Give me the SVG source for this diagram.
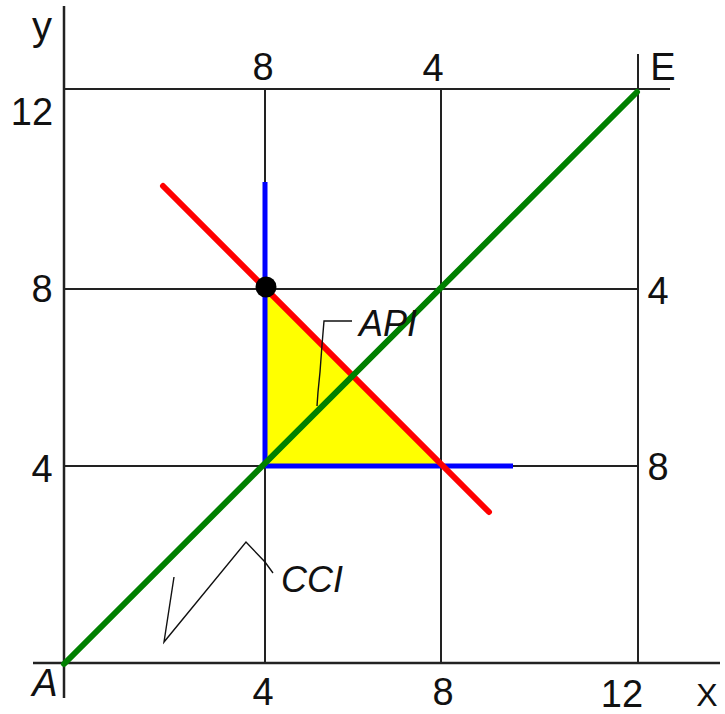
<svg xmlns="http://www.w3.org/2000/svg" width="725" height="714" viewBox="0 0 725 714">
<style>
.ax{stroke:#222;stroke-width:2.5;fill:none}
.gr{stroke:#222;stroke-width:2;fill:none}
.lbl{font-family:"Comic Sans MS","Liberation Sans",sans-serif;font-size:38px;fill:#111;text-anchor:middle}
.it{font-style:italic}
.lead{stroke:#111;stroke-width:1.4;fill:none}
</style>
<rect width="725" height="714" fill="#fff"/>
<g id="grid">
<line class="ax" x1="64" y1="6" x2="64" y2="698"/>
<line class="ax" x1="33" y1="663" x2="720" y2="663"/>
<line class="gr" x1="64" y1="89" x2="670" y2="89"/>
<line class="gr" x1="638" y1="54" x2="638" y2="663"/>
<line class="gr" x1="64" y1="289" x2="638" y2="289"/>
<line class="gr" x1="64" y1="466" x2="638" y2="466"/>
<line class="gr" x1="265" y1="89" x2="265" y2="663"/>
<line class="gr" x1="441" y1="89" x2="441" y2="663"/>
</g>
<g id="api-area">
<polygon points="265,289 265,466 441,466" fill="#ffff00"/>
</g>
<g id="connectors">
<line x1="265" y1="182" x2="265" y2="466" stroke="#0000ff" stroke-width="5"/>
<line x1="265" y1="466" x2="513" y2="466" stroke="#0000ff" stroke-width="5"/>
<line x1="163" y1="186" x2="489" y2="512" stroke="#ff0000" stroke-width="6" stroke-linecap="round"/>
<line x1="64" y1="664" x2="637" y2="92" stroke="#008000" stroke-width="6" stroke-linecap="round"/>
<polyline class="lead" points="352,321 324,321 322,345 320,372 318,392 317,406"/>
<polyline class="lead" points="273,573 265,562 246,542 164,642 174,577"/>
</g>
<g id="point">
<circle cx="266" cy="287" r="10.5" fill="#000"/>
</g>
<g id="labels">
<text class="lbl" x="42" y="40" style="font-size:40px">y</text>
<text class="lbl" x="32" y="125">12</text>
<text class="lbl" x="263" y="80">8</text>
<text class="lbl" x="433" y="81">4</text>
<text class="lbl" x="663" y="80">E</text>
<text class="lbl" x="42" y="302">8</text>
<text class="lbl" x="42" y="482">4</text>
<text class="lbl" x="658" y="304">4</text>
<text class="lbl" x="658" y="480">8</text>
<text class="lbl" x="263" y="705">4</text>
<text class="lbl" x="443" y="705">8</text>
<text class="lbl" x="622" y="707">12</text>
<text class="lbl" x="707" y="706" style="font-size:32px">X</text>
<text class="lbl it" x="45" y="696">A</text>
<text class="lbl it" x="388" y="336" style="font-size:36px">API</text>
<text class="lbl it" x="312" y="592" style="font-size:36px">CCI</text>
</g>
</svg>
